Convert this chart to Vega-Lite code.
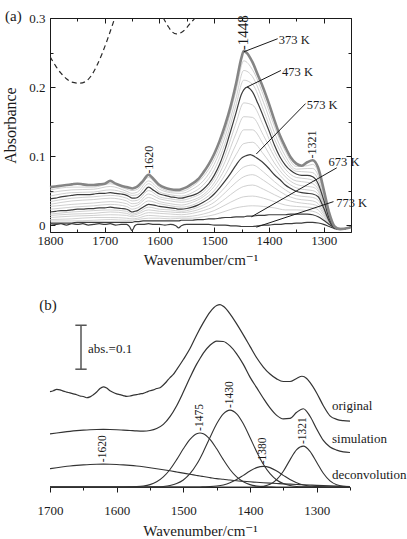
{
  "$schema": "https://vega.github.io/schema/vega-lite/v6.json",
  "padding": {"left": 2, "top": 8, "right": 0, "bottom": 0},
  "spacing": 29,
  "config": {
    "font": "Liberation Serif, Times New Roman, DejaVu Serif, serif",
    "view": {"stroke": null},
    "axis": {
      "labelFont": "Liberation Serif, Times New Roman, DejaVu Serif, serif",
      "titleFont": "Liberation Serif, Times New Roman, DejaVu Serif, serif",
      "labelFontSize": 13, "titleFontSize": 15, "titleFontWeight": "normal",
      "labelColor": "#1a1a1a", "titleColor": "#1a1a1a", "tickColor": "#1a1a1a",
      "domainColor": "#1a1a1a", "grid": false, "labelFlush": false, "labelOverlap": false,
      "tickWidth": 1
    },
    "text": {"font": "Liberation Serif, Times New Roman, DejaVu Serif, serif", "color": "#1a1a1a"}
  },
  "datasets": {
    "dark": [
      {"w":1800,"a373":0.055,"a473":0.038,"a573":0.019,"a673":0.003,"a773":0.002},
      {"w":1790,"a373":0.056,"a473":0.039,"a573":0.020,"a673":0.003,"a773":0.001},
      {"w":1780,"a373":0.057,"a473":0.041,"a573":0.021,"a673":0.003,"a773":0.002},
      {"w":1770,"a373":0.058,"a473":0.042,"a573":0.021,"a673":0.003,"a773":0.000},
      {"w":1760,"a373":0.059,"a473":0.043,"a573":0.022,"a673":0.003,"a773":0.002},
      {"w":1750,"a373":0.060,"a473":0.044,"a573":0.023,"a673":0.004,"a773":0.001},
      {"w":1740,"a373":0.059,"a473":0.044,"a573":0.023,"a673":0.004,"a773":0.002},
      {"w":1730,"a373":0.058,"a473":0.044,"a573":0.024,"a673":0.004,"a773":0.000},
      {"w":1720,"a373":0.058,"a473":0.045,"a573":0.024,"a673":0.004,"a773":0.001},
      {"w":1710,"a373":0.059,"a473":0.046,"a573":0.025,"a673":0.004,"a773":0.002},
      {"w":1700,"a373":0.060,"a473":0.046,"a573":0.025,"a673":0.004,"a773":0.001},
      {"w":1690,"a373":0.064,"a473":0.047,"a573":0.026,"a673":0.004,"a773":0.002},
      {"w":1680,"a373":0.060,"a473":0.046,"a573":0.025,"a673":0.004,"a773":0.000},
      {"w":1670,"a373":0.057,"a473":0.045,"a573":0.024,"a673":0.004,"a773":0.001},
      {"w":1660,"a373":0.055,"a473":0.043,"a573":0.023,"a673":0.004,"a773":0.001},
      {"w":1655,"a373":0.054,"a473":0.041,"a573":0.021,"a673":0.004,"a773":-0.002},
      {"w":1650,"a373":0.053,"a473":0.039,"a573":0.019,"a673":0.004,"a773":-0.008},
      {"w":1645,"a373":0.054,"a473":0.039,"a573":0.020,"a673":0.005,"a773":-0.001},
      {"w":1640,"a373":0.056,"a473":0.040,"a573":0.021,"a673":0.005,"a773":0.001},
      {"w":1630,"a373":0.064,"a473":0.047,"a573":0.026,"a673":0.006,"a773":0.001},
      {"w":1620,"a373":0.073,"a473":0.055,"a573":0.030,"a673":0.006,"a773":0.002},
      {"w":1610,"a373":0.066,"a473":0.050,"a573":0.029,"a673":0.006,"a773":0.001},
      {"w":1600,"a373":0.058,"a473":0.045,"a573":0.027,"a673":0.006,"a773":0.001},
      {"w":1590,"a373":0.054,"a473":0.043,"a573":0.026,"a673":0.006,"a773":0.000},
      {"w":1580,"a373":0.052,"a473":0.041,"a573":0.025,"a673":0.006,"a773":0.001},
      {"w":1570,"a373":0.051,"a473":0.040,"a573":0.024,"a673":0.006,"a773":-0.001},
      {"w":1565,"a373":0.051,"a473":0.039,"a573":0.023,"a673":0.006,"a773":-0.004},
      {"w":1560,"a373":0.052,"a473":0.039,"a573":0.023,"a673":0.007,"a773":-0.001},
      {"w":1550,"a373":0.055,"a473":0.041,"a573":0.024,"a673":0.007,"a773":0.001},
      {"w":1540,"a373":0.060,"a473":0.043,"a573":0.026,"a673":0.007,"a773":0.001},
      {"w":1530,"a373":0.066,"a473":0.046,"a573":0.029,"a673":0.008,"a773":0.001},
      {"w":1520,"a373":0.076,"a473":0.052,"a573":0.033,"a673":0.008,"a773":0.001},
      {"w":1510,"a373":0.088,"a473":0.060,"a573":0.038,"a673":0.009,"a773":0.001},
      {"w":1500,"a373":0.103,"a473":0.072,"a573":0.045,"a673":0.009,"a773":0.000},
      {"w":1490,"a373":0.122,"a473":0.088,"a573":0.054,"a673":0.010,"a773":0.000},
      {"w":1480,"a373":0.145,"a473":0.110,"a573":0.064,"a673":0.011,"a773":0.000},
      {"w":1470,"a373":0.172,"a473":0.136,"a573":0.075,"a673":0.011,"a773":-0.001},
      {"w":1460,"a373":0.205,"a473":0.163,"a573":0.087,"a673":0.012,"a773":-0.001},
      {"w":1450,"a373":0.243,"a473":0.190,"a573":0.097,"a673":0.012,"a773":-0.002},
      {"w":1446,"a373":0.252,"a473":0.196,"a573":0.099,"a673":0.012,"a773":-0.002},
      {"w":1440,"a373":0.249,"a473":0.200,"a573":0.101,"a673":0.013,"a773":-0.002},
      {"w":1434,"a373":0.242,"a473":0.197,"a573":0.102,"a673":0.013,"a773":-0.002},
      {"w":1430,"a373":0.236,"a473":0.193,"a573":0.101,"a673":0.013,"a773":-0.002},
      {"w":1420,"a373":0.217,"a473":0.176,"a573":0.096,"a673":0.014,"a773":-0.001},
      {"w":1410,"a373":0.198,"a473":0.157,"a573":0.090,"a673":0.014,"a773":0.000},
      {"w":1400,"a373":0.176,"a473":0.137,"a573":0.082,"a673":0.015,"a773":0.000},
      {"w":1390,"a373":0.152,"a473":0.116,"a573":0.073,"a673":0.015,"a773":0.001},
      {"w":1380,"a373":0.130,"a473":0.099,"a573":0.066,"a673":0.015,"a773":0.001},
      {"w":1370,"a373":0.113,"a473":0.087,"a573":0.058,"a673":0.015,"a773":0.002},
      {"w":1360,"a373":0.098,"a473":0.079,"a573":0.053,"a673":0.016,"a773":0.002},
      {"w":1350,"a373":0.089,"a473":0.074,"a573":0.049,"a673":0.016,"a773":0.003},
      {"w":1340,"a373":0.086,"a473":0.072,"a573":0.047,"a673":0.016,"a773":0.003},
      {"w":1330,"a373":0.091,"a473":0.072,"a573":0.046,"a673":0.016,"a773":0.004},
      {"w":1320,"a373":0.094,"a473":0.070,"a573":0.045,"a673":0.015,"a773":0.004},
      {"w":1310,"a373":0.083,"a473":0.060,"a573":0.041,"a673":0.012,"a773":0.003},
      {"w":1300,"a373":0.052,"a473":0.037,"a573":0.025,"a673":0.007,"a773":0.001},
      {"w":1290,"a373":0.018,"a473":0.010,"a573":0.006,"a673":0.001,"a773":-0.002},
      {"w":1280,"a373":-0.002,"a473":-0.004,"a573":-0.004,"a673":-0.004,"a773":-0.005},
      {"w":1270,"a373":-0.006,"a473":-0.006,"a573":-0.006,"a673":-0.006,"a773":-0.006},
      {"w":1260,"a373":-0.005,"a473":-0.005,"a573":-0.005,"a673":-0.005,"a773":-0.005},
      {"w":1250,"a373":-0.003,"a473":-0.003,"a573":-0.003,"a673":-0.003,"a773":-0.003}
    ],
    "grey": [
      {"w":1800,"g1":0.051,"g2":0.047,"g3":0.042,"g4":0.034,"g5":0.030,"g6":0.027,"g7":0.023,"g8":0.016,"g9":0.014,"g10":0.011,"g11":0.008,"g12":0.006},
      {"w":1760,"g1":0.055,"g2":0.051,"g3":0.047,"g4":0.039,"g5":0.035,"g6":0.030,"g7":0.026,"g8":0.019,"g9":0.016,"g10":0.013,"g11":0.009,"g12":0.006},
      {"w":1720,"g1":0.055,"g2":0.052,"g3":0.048,"g4":0.041,"g5":0.037,"g6":0.032,"g7":0.028,"g8":0.021,"g9":0.017,"g10":0.014,"g11":0.011,"g12":0.007},
      {"w":1690,"g1":0.060,"g2":0.056,"g3":0.051,"g4":0.043,"g5":0.039,"g6":0.034,"g7":0.030,"g8":0.022,"g9":0.019,"g10":0.015,"g11":0.011,"g12":0.008},
      {"w":1660,"g1":0.052,"g2":0.049,"g3":0.046,"g4":0.039,"g5":0.035,"g6":0.031,"g7":0.027,"g8":0.020,"g9":0.017,"g10":0.014,"g11":0.010,"g12":0.007},
      {"w":1650,"g1":0.050,"g2":0.046,"g3":0.043,"g4":0.035,"g5":0.031,"g6":0.027,"g7":0.023,"g8":0.016,"g9":0.014,"g10":0.012,"g11":0.009,"g12":0.007},
      {"w":1640,"g1":0.052,"g2":0.048,"g3":0.044,"g4":0.036,"g5":0.032,"g6":0.029,"g7":0.025,"g8":0.018,"g9":0.016,"g10":0.013,"g11":0.010,"g12":0.008},
      {"w":1620,"g1":0.069,"g2":0.064,"g3":0.060,"g4":0.050,"g5":0.045,"g6":0.040,"g7":0.035,"g8":0.026,"g9":0.022,"g10":0.018,"g11":0.014,"g12":0.010},
      {"w":1600,"g1":0.055,"g2":0.052,"g3":0.048,"g4":0.041,"g5":0.038,"g6":0.034,"g7":0.031,"g8":0.023,"g9":0.020,"g10":0.017,"g11":0.013,"g12":0.010},
      {"w":1580,"g1":0.049,"g2":0.047,"g3":0.044,"g4":0.038,"g5":0.035,"g6":0.031,"g7":0.028,"g8":0.022,"g9":0.019,"g10":0.016,"g11":0.012,"g12":0.009},
      {"w":1560,"g1":0.049,"g2":0.046,"g3":0.042,"g4":0.036,"g5":0.033,"g6":0.029,"g7":0.026,"g8":0.020,"g9":0.018,"g10":0.015,"g11":0.012,"g12":0.010},
      {"w":1540,"g1":0.056,"g2":0.052,"g3":0.047,"g4":0.040,"g5":0.036,"g6":0.033,"g7":0.029,"g8":0.023,"g9":0.020,"g10":0.017,"g11":0.013,"g12":0.010},
      {"w":1520,"g1":0.070,"g2":0.064,"g3":0.058,"g4":0.048,"g5":0.044,"g6":0.041,"g7":0.037,"g8":0.029,"g9":0.025,"g10":0.021,"g11":0.016,"g12":0.012},
      {"w":1500,"g1":0.095,"g2":0.088,"g3":0.080,"g4":0.067,"g5":0.061,"g6":0.056,"g7":0.050,"g8":0.039,"g9":0.033,"g10":0.027,"g11":0.021,"g12":0.015},
      {"w":1480,"g1":0.136,"g2":0.128,"g3":0.119,"g4":0.101,"g5":0.092,"g6":0.082,"g7":0.073,"g8":0.055,"g9":0.047,"g10":0.038,"g11":0.029,"g12":0.020},
      {"w":1460,"g1":0.195,"g2":0.184,"g3":0.174,"g4":0.148,"g5":0.133,"g6":0.117,"g7":0.102,"g8":0.074,"g9":0.062,"g10":0.050,"g11":0.037,"g12":0.025},
      {"w":1446,"g1":0.238,"g2":0.224,"g3":0.210,"g4":0.177,"g5":0.157,"g6":0.138,"g7":0.118,"g8":0.084,"g9":0.070,"g10":0.056,"g11":0.041,"g12":0.027},
      {"w":1430,"g1":0.225,"g2":0.215,"g3":0.204,"g4":0.174,"g5":0.156,"g6":0.138,"g7":0.120,"g8":0.087,"g9":0.073,"g10":0.058,"g11":0.042,"g12":0.028},
      {"w":1410,"g1":0.188,"g2":0.178,"g3":0.167,"g4":0.144,"g5":0.130,"g6":0.117,"g7":0.103,"g8":0.077,"g9":0.065,"g10":0.052,"g11":0.039,"g12":0.027},
      {"w":1390,"g1":0.143,"g2":0.134,"g3":0.125,"g4":0.107,"g5":0.099,"g6":0.090,"g7":0.082,"g8":0.063,"g9":0.054,"g10":0.044,"g11":0.034,"g12":0.025},
      {"w":1370,"g1":0.107,"g2":0.100,"g3":0.094,"g4":0.081,"g5":0.075,"g6":0.070,"g7":0.064,"g8":0.051,"g9":0.044,"g10":0.037,"g11":0.029,"g12":0.022},
      {"w":1350,"g1":0.085,"g2":0.081,"g3":0.078,"g4":0.069,"g5":0.064,"g6":0.059,"g7":0.054,"g8":0.043,"g9":0.038,"g10":0.033,"g11":0.027,"g12":0.022},
      {"w":1330,"g1":0.086,"g2":0.082,"g3":0.077,"g4":0.067,"g5":0.062,"g6":0.056,"g7":0.051,"g8":0.041,"g9":0.036,"g10":0.031,"g11":0.026,"g12":0.021},
      {"w":1320,"g1":0.088,"g2":0.082,"g3":0.076,"g4":0.065,"g5":0.060,"g6":0.055,"g7":0.050,"g8":0.040,"g9":0.035,"g10":0.030,"g11":0.025,"g12":0.020},
      {"w":1310,"g1":0.077,"g2":0.072,"g3":0.066,"g4":0.056,"g5":0.052,"g6":0.049,"g7":0.045,"g8":0.036,"g9":0.031,"g10":0.027,"g11":0.022,"g12":0.017},
      {"w":1300,"g1":0.048,"g2":0.045,"g3":0.041,"g4":0.035,"g5":0.032,"g6":0.030,"g7":0.027,"g8":0.022,"g9":0.019,"g10":0.016,"g11":0.013,"g12":0.010},
      {"w":1290,"g1":0.016,"g2":0.014,"g3":0.012,"g4":0.009,"g5":0.008,"g6":0.008,"g7":0.007,"g8":0.005,"g9":0.004,"g10":0.004,"g11":0.003,"g12":0.002},
      {"w":1280,"g1":-0.003,"g2":-0.003,"g3":-0.004,"g4":-0.004,"g5":-0.004,"g6":-0.004,"g7":-0.004,"g8":-0.004,"g9":-0.004,"g10":-0.004,"g11":-0.004,"g12":-0.004},
      {"w":1260,"g1":-0.005,"g2":-0.005,"g3":-0.005,"g4":-0.005,"g5":-0.005,"g6":-0.005,"g7":-0.005,"g8":-0.005,"g9":-0.005,"g10":-0.005,"g11":-0.005,"g12":-0.005},
      {"w":1250,"g1":-0.003,"g2":-0.003,"g3":-0.003,"g4":-0.003,"g5":-0.003,"g6":-0.003,"g7":-0.003,"g8":-0.003,"g9":-0.003,"g10":-0.003,"g11":-0.003,"g12":-0.003}
    ],
    "dash": [
      {"w":1800,"v":0.244},{"w":1790,"v":0.231},{"w":1780,"v":0.220},{"w":1770,"v":0.212},
      {"w":1760,"v":0.207},{"w":1746,"v":0.2055},{"w":1735,"v":0.208},{"w":1725,"v":0.216},
      {"w":1715,"v":0.230},{"w":1705,"v":0.248},{"w":1695,"v":0.269},{"w":1685,"v":0.292},
      {"w":1675,"v":0.316},{"w":1660,"v":0.35},{"w":1640,"v":0.37},{"w":1625,"v":0.36},
      {"w":1610,"v":0.33},{"w":1600,"v":0.31},{"w":1593,"v":0.300},{"w":1585,"v":0.289},
      {"w":1578,"v":0.281},{"w":1569,"v":0.277},{"w":1560,"v":0.279},{"w":1550,"v":0.286},
      {"w":1543,"v":0.293},{"w":1535,"v":0.300},{"w":1525,"v":0.315},{"w":1510,"v":0.34}
    ],
    "peaksA": [
      {"w":1448,"v":0.252,"t":"-1448"},
      {"w":1620,"v":0.073,"t":"-1620"},
      {"w":1321,"v":0.095,"t":"-1321"}
    ],
    "leaders": [
      {"T":"373 K","x1":1446,"y1":0.251,"x2":1384,"y2":0.270,"tx":1382,"ty":0.268},
      {"T":"473 K","x1":1440,"y1":0.200,"x2":1378,"y2":0.224,"tx":1376,"ty":0.222},
      {"T":"573 K","x1":1423,"y1":0.103,"x2":1333,"y2":0.176,"tx":1331,"ty":0.174},
      {"T":"673 K","x1":1432,"y1":0.012,"x2":1276,"y2":0.083,"tx":1291,"ty":0.091},
      {"T":"773 K","x1":1423,"y1":-0.003,"x2":1282,"y2":0.034,"tx":1277,"ty":0.032}
    ],
    "tagA": [{"w":1882,"v":0.303,"t":"(a)"}],
    "comps": [
      {"w":1700,"c1620":0.0417,"c1475":0,"c1430":0,"c1380":0,"c1321":0,"sim":0.1207},
      {"w":1690,"c1620":0.0439,"c1475":0,"c1430":0,"c1380":0,"c1321":0,"sim":0.1229},
      {"w":1680,"c1620":0.0459,"c1475":0,"c1430":0,"c1380":0,"c1321":0,"sim":0.1249},
      {"w":1670,"c1620":0.0477,"c1475":0,"c1430":0,"c1380":0,"c1321":0,"sim":0.1267},
      {"w":1660,"c1620":0.0492,"c1475":0,"c1430":0,"c1380":0,"c1321":0,"sim":0.1282},
      {"w":1650,"c1620":0.0504,"c1475":0,"c1430":0,"c1380":0,"c1321":0,"sim":0.1294},
      {"w":1640,"c1620":0.0513,"c1475":0,"c1430":0,"c1380":0,"c1321":0,"sim":0.1303},
      {"w":1630,"c1620":0.0518,"c1475":0,"c1430":0,"c1380":0,"c1321":0,"sim":0.1308},
      {"w":1620,"c1620":0.0520,"c1475":0,"c1430":0,"c1380":0,"c1321":0,"sim":0.1310},
      {"w":1610,"c1620":0.0518,"c1475":0,"c1430":0,"c1380":0,"c1321":0,"sim":0.1308},
      {"w":1600,"c1620":0.0513,"c1475":0,"c1430":0,"c1380":0,"c1321":0,"sim":0.1303},
      {"w":1590,"c1620":0.0504,"c1475":0,"c1430":0,"c1380":0,"c1321":0,"sim":0.1294},
      {"w":1580,"c1620":0.0492,"c1475":0.0003,"c1430":0,"c1380":0,"c1321":0,"sim":0.1285},
      {"w":1570,"c1620":0.0477,"c1475":0.0008,"c1430":0,"c1380":0,"c1321":0,"sim":0.1275},
      {"w":1560,"c1620":0.0459,"c1475":0.0022,"c1430":0.0001,"c1380":0,"c1321":0,"sim":0.1271},
      {"w":1550,"c1620":0.0439,"c1475":0.0054,"c1430":0.0002,"c1380":0,"c1321":0,"sim":0.1285},
      {"w":1540,"c1620":0.0417,"c1475":0.0118,"c1430":0.0005,"c1380":0,"c1321":0,"sim":0.1330},
      {"w":1530,"c1620":0.0393,"c1475":0.0229,"c1430":0.0013,"c1380":0,"c1321":0,"sim":0.1425},
      {"w":1520,"c1620":0.0368,"c1475":0.0399,"c1430":0.0034,"c1380":0,"c1321":0,"sim":0.1600},
      {"w":1510,"c1620":0.0342,"c1475":0.0622,"c1430":0.0077,"c1380":0,"c1321":0,"sim":0.1850},
      {"w":1500,"c1620":0.0316,"c1475":0.0869,"c1430":0.0160,"c1380":0,"c1321":0,"sim":0.2160},
      {"w":1490,"c1620":0.0289,"c1475":0.1085,"c1430":0.0302,"c1380":0,"c1321":0,"sim":0.2490},
      {"w":1480,"c1620":0.0263,"c1475":0.1213,"c1430":0.0516,"c1380":0.0001,"c1321":0,"sim":0.2795},
      {"w":1475,"c1620":0.0250,"c1475":0.1230,"c1430":0.0651,"c1380":0.0001,"c1321":0,"sim":0.2925},
      {"w":1470,"c1620":0.0238,"c1475":0.1213,"c1430":0.0802,"c1380":0.0003,"c1321":0,"sim":0.3046},
      {"w":1460,"c1620":0.0214,"c1475":0.1085,"c1430":0.1127,"c1380":0.0008,"c1321":0,"sim":0.3224},
      {"w":1450,"c1620":0.0190,"c1475":0.0869,"c1430":0.1440,"c1380":0.0021,"c1321":0,"sim":0.3320},
      {"w":1440,"c1620":0.0176,"c1475":0.0622,"c1430":0.1666,"c1380":0.0047,"c1321":0,"sim":0.3310},
      {"w":1430,"c1620":0.0158,"c1475":0.0399,"c1430":0.1750,"c1380":0.0095,"c1321":0,"sim":0.3210},
      {"w":1420,"c1620":0.0142,"c1475":0.0229,"c1430":0.1666,"c1380":0.0169,"c1321":0,"sim":0.3030},
      {"w":1410,"c1620":0.0130,"c1475":0.0118,"c1430":0.1440,"c1380":0.0265,"c1321":0,"sim":0.2790},
      {"w":1400,"c1620":0.0118,"c1475":0.0054,"c1430":0.1127,"c1380":0.0364,"c1321":0.0001,"sim":0.2500},
      {"w":1390,"c1620":0.0107,"c1475":0.0022,"c1430":0.0802,"c1380":0.0441,"c1321":0.0004,"sim":0.2260},
      {"w":1380,"c1620":0.0097,"c1475":0.0008,"c1430":0.0516,"c1380":0.0470,"c1321":0.0018,"sim":0.2020},
      {"w":1370,"c1620":0.0088,"c1475":0.0003,"c1430":0.0302,"c1380":0.0441,"c1321":0.0061,"sim":0.1800},
      {"w":1360,"c1620":0.0080,"c1475":0,"c1430":0.0160,"c1380":0.0364,"c1321":0.0166,"sim":0.1630},
      {"w":1350,"c1620":0.0072,"c1475":0,"c1430":0.0077,"c1380":0.0265,"c1321":0.0358,"sim":0.1550},
      {"w":1340,"c1620":0.0065,"c1475":0,"c1430":0.0034,"c1380":0.0169,"c1321":0.0618,"sim":0.1560},
      {"w":1330,"c1620":0.0058,"c1475":0,"c1430":0.0013,"c1380":0.0095,"c1321":0.0848,"sim":0.1700},
      {"w":1320,"c1620":0.0051,"c1475":0,"c1430":0.0005,"c1380":0.0047,"c1321":0.0929,"sim":0.1780},
      {"w":1310,"c1620":0.0044,"c1475":0,"c1430":0.0002,"c1380":0.0021,"c1321":0.0811,"sim":0.1610},
      {"w":1300,"c1620":0.0038,"c1475":0,"c1430":0,"c1380":0.0008,"c1321":0.0564,"sim":0.1320},
      {"w":1290,"c1620":0.0032,"c1475":0,"c1430":0,"c1380":0.0003,"c1321":0.0313,"sim":0.1060},
      {"w":1280,"c1620":0.0026,"c1475":0,"c1430":0,"c1380":0.0001,"c1321":0.0138,"sim":0.0910},
      {"w":1270,"c1620":0.0020,"c1475":0,"c1430":0,"c1380":0,"c1321":0.0049,"sim":0.0840},
      {"w":1260,"c1620":0.0015,"c1475":0,"c1430":0,"c1380":0,"c1321":0.0014,"sim":0.0800},
      {"w":1250,"c1620":0.0010,"c1475":0,"c1430":0,"c1380":0,"c1321":0.0003,"sim":0.0785}
    ],
    "orig": [
      {"w":1700,"v":0.217},{"w":1695,"v":0.219},{"w":1690,"v":0.222},{"w":1685,"v":0.221},
      {"w":1680,"v":0.218},{"w":1675,"v":0.216},{"w":1670,"v":0.214},{"w":1665,"v":0.212},
      {"w":1660,"v":0.210},{"w":1655,"v":0.207},{"w":1650,"v":0.206},{"w":1645,"v":0.203},
      {"w":1640,"v":0.205},{"w":1635,"v":0.210},{"w":1630,"v":0.216},{"w":1625,"v":0.224},
      {"w":1620,"v":0.228},{"w":1615,"v":0.225},{"w":1610,"v":0.219},{"w":1605,"v":0.215},
      {"w":1600,"v":0.212},{"w":1595,"v":0.210},{"w":1590,"v":0.208},{"w":1585,"v":0.206},
      {"w":1580,"v":0.207},{"w":1575,"v":0.209},{"w":1570,"v":0.210},{"w":1565,"v":0.212},
      {"w":1560,"v":0.213},{"w":1555,"v":0.216},{"w":1550,"v":0.219},{"w":1545,"v":0.221},
      {"w":1540,"v":0.224},{"w":1535,"v":0.226},{"w":1530,"v":0.232},{"w":1525,"v":0.240},
      {"w":1520,"v":0.249},{"w":1515,"v":0.256},{"w":1510,"v":0.267},{"w":1500,"v":0.290},
      {"w":1490,"v":0.315},{"w":1480,"v":0.346},{"w":1470,"v":0.374},{"w":1460,"v":0.398},
      {"w":1450,"v":0.413},{"w":1445,"v":0.415},{"w":1440,"v":0.411},{"w":1430,"v":0.394},
      {"w":1420,"v":0.371},{"w":1410,"v":0.346},{"w":1400,"v":0.320},{"w":1390,"v":0.294},
      {"w":1380,"v":0.273},{"w":1370,"v":0.257},{"w":1360,"v":0.246},{"w":1350,"v":0.240},
      {"w":1340,"v":0.240},{"w":1330,"v":0.247},{"w":1322,"v":0.252},{"w":1315,"v":0.247},
      {"w":1310,"v":0.238},{"w":1300,"v":0.214},{"w":1290,"v":0.185},{"w":1280,"v":0.162},
      {"w":1270,"v":0.154},{"w":1260,"v":0.151},{"w":1250,"v":0.150}
    ],
    "peaksB": [
      {"w":1620,"v":0.052,"t":"-1620"},
      {"w":1475,"v":0.123,"t":"-1475"},
      {"w":1430,"v":0.175,"t":"-1430"},
      {"w":1380,"v":0.047,"t":"-1380"},
      {"w":1321,"v":0.093,"t":"-1321"}
    ],
    "namesB": [
      {"w":1277,"v":0.185,"t":"original"},
      {"w":1277,"v":0.109,"t":"simulation"},
      {"w":1277,"v":0.027,"t":"deconvolution"}
    ],
    "bar": [
      {"x1":1653.5,"x2":1653.5,"y1":0.268,"y2":0.368},
      {"x1":1662,"x2":1645,"y1":0.368,"y2":0.368},
      {"x1":1662,"x2":1645,"y1":0.268,"y2":0.268}
    ],
    "barText": [{"w":1643,"v":0.315,"t":"abs.=0.1"}],
    "tagB": [{"w":1716,"v":0.415,"t":"(b)"}]
  },
  "vconcat": [
    {
      "width": 301,
      "height": 214,
      "view": {"stroke": "#1a1a1a", "strokeWidth": 1},
      "resolve": {"axis": {"x": "independent", "y": "independent"}},
      "layer": [
        {
          "data": {"name": "grey"},
          "transform": [{"fold": ["g1","g2","g3","g4","g5","g6","g7","g8","g9","g10","g11","g12"], "as": ["curve", "A"]}],
          "mark": {"type": "line", "interpolate": "monotone", "color": "#c4c4c4", "strokeWidth": 0.8},
          "encoding": {
            "x": {"field": "w", "type": "quantitative",
                  "scale": {"domain": [1250, 1800], "reverse": true, "nice": false, "zero": false},
                  "axis": {"orient": "bottom", "values": [1800,1700,1600,1500,1400,1300], "format": "d",
                           "tickSize": -5, "labelPadding": 7, "domain": false,
                           "title": "Wavenumber/cm⁻¹", "titlePadding": 5}},
            "y": {"field": "A", "type": "quantitative",
                  "scale": {"domain": [-0.01, 0.3], "nice": false, "zero": false},
                  "axis": {"orient": "left", "values": [0, 0.1, 0.2, 0.3], "format": "~g",
                           "tickSize": -5, "labelPadding": 10, "domain": false,
                           "title": "Absorbance", "titleFontSize": 16, "titlePadding": 10}},
            "detail": {"field": "curve", "type": "nominal"}
          }
        },
        {
          "data": {"name": "dark"},
          "transform": [{"fold": ["a473","a573","a673","a773"], "as": ["curve", "A"]}],
          "mark": {"type": "line", "interpolate": "monotone", "color": "#3c3c3c", "strokeWidth": 1.2},
          "encoding": {
            "x": {"field": "w", "type": "quantitative",
                  "axis": {"orient": "bottom", "values": [1750,1650,1550,1450,1350,1250], "labels": false,
                           "tickSize": -3, "domain": false, "title": null}},
            "y": {"field": "A", "type": "quantitative",
                  "axis": {"orient": "left", "values": [0.05, 0.15, 0.25], "labels": false,
                           "tickSize": -3, "domain": false, "title": null}},
            "detail": {"field": "curve", "type": "nominal"}
          }
        },
        {
          "data": {"name": "dark"},
          "mark": {"type": "line", "interpolate": "monotone", "color": "#858585", "strokeWidth": 2.6},
          "encoding": {
            "x": {"field": "w", "type": "quantitative",
                  "axis": {"orient": "top", "values": [1800,1700,1600,1500,1400,1300], "labels": false,
                           "tickSize": -5, "domain": false, "title": null}},
            "y": {"field": "a373", "type": "quantitative",
                  "axis": {"orient": "right", "values": [0, 0.1, 0.2, 0.3], "labels": false,
                           "tickSize": -5, "domain": false, "title": null}}
          }
        },
        {
          "data": {"name": "dash"},
          "mark": {"type": "line", "interpolate": "monotone", "clip": true, "color": "#2a2a2a",
                   "strokeWidth": 1.2, "strokeDash": [5, 3.5]},
          "encoding": {
            "x": {"field": "w", "type": "quantitative",
                  "axis": {"orient": "top", "values": [1750,1650,1550,1450,1350,1250], "labels": false,
                           "tickSize": -3, "domain": false, "title": null}},
            "y": {"field": "v", "type": "quantitative",
                  "axis": {"orient": "right", "values": [0.05, 0.15, 0.25], "labels": false,
                           "tickSize": -3, "domain": false, "title": null}}
          }
        },
        {
          "data": {"name": "leaders"},
          "mark": {"type": "rule", "color": "#1a1a1a", "strokeWidth": 1},
          "encoding": {
            "x": {"field": "x1", "type": "quantitative", "axis": null},
            "y": {"field": "y1", "type": "quantitative", "axis": null},
            "x2": {"field": "x2"},
            "y2": {"field": "y2"}
          }
        },
        {
          "data": {"name": "leaders"},
          "mark": {"type": "text", "align": "left", "baseline": "middle", "fontSize": 12.5},
          "encoding": {
            "x": {"field": "tx", "type": "quantitative", "axis": null},
            "y": {"field": "ty", "type": "quantitative", "axis": null},
            "text": {"field": "T"}
          }
        },
        {
          "data": {"name": "peaksA"},
          "mark": {"type": "text", "angle": 270, "align": "left", "baseline": "middle", "dx": 1},
          "encoding": {
            "x": {"field": "w", "type": "quantitative", "axis": null},
            "y": {"field": "v", "type": "quantitative", "axis": null},
            "text": {"field": "t"},
            "size": {"condition": {"test": "datum.w === 1448", "value": 15}, "value": 12}
          }
        },
        {
          "data": {"name": "tagA"},
          "mark": {"type": "text", "align": "left", "baseline": "middle", "fontSize": 15},
          "encoding": {
            "x": {"field": "w", "type": "quantitative", "axis": null},
            "y": {"field": "v", "type": "quantitative", "axis": null},
            "text": {"field": "t"}
          }
        }
      ]
    },
    {
      "width": 300,
      "height": 189,
      "resolve": {"axis": {"x": "independent"}},
      "layer": [
        {
          "data": {"name": "comps"},
          "transform": [{"fold": ["c1620","c1475","c1430","c1380","c1321"], "as": ["curve", "A"]}],
          "mark": {"type": "line", "interpolate": "monotone", "color": "#333333", "strokeWidth": 1.1},
          "encoding": {
            "x": {"field": "w", "type": "quantitative",
                  "scale": {"domain": [1250, 1700], "reverse": true, "nice": false, "zero": false},
                  "axis": {"orient": "bottom", "values": [1700,1600,1500,1400,1300], "format": "d",
                           "tickSize": 5, "labelPadding": 12, "domain": true,
                           "title": "Wavenumber/cm⁻¹", "titlePadding": 6}},
            "y": {"field": "A", "type": "quantitative",
                  "scale": {"domain": [0, 0.43], "nice": false, "zero": false}, "axis": null},
            "detail": {"field": "curve", "type": "nominal"}
          }
        },
        {
          "data": {"name": "comps"},
          "mark": {"type": "line", "interpolate": "monotone", "color": "#333333", "strokeWidth": 1.2},
          "encoding": {
            "x": {"field": "w", "type": "quantitative",
                  "axis": {"orient": "bottom", "values": [1650,1550,1450,1350,1250], "labels": false,
                           "tickSize": 3, "domain": false, "title": null}},
            "y": {"field": "sim", "type": "quantitative", "axis": null}
          }
        },
        {
          "data": {"name": "orig"},
          "mark": {"type": "line", "interpolate": "monotone", "color": "#333333", "strokeWidth": 1.2},
          "encoding": {
            "x": {"field": "w", "type": "quantitative", "axis": null},
            "y": {"field": "v", "type": "quantitative", "axis": null}
          }
        },
        {
          "data": {"name": "bar"},
          "mark": {"type": "rule", "color": "#555555", "strokeWidth": 1.5},
          "encoding": {
            "x": {"field": "x1", "type": "quantitative", "axis": null},
            "y": {"field": "y1", "type": "quantitative", "axis": null},
            "x2": {"field": "x2"},
            "y2": {"field": "y2"}
          }
        },
        {
          "data": {"name": "barText"},
          "mark": {"type": "text", "align": "left", "baseline": "middle", "fontSize": 13},
          "encoding": {
            "x": {"field": "w", "type": "quantitative", "axis": null},
            "y": {"field": "v", "type": "quantitative", "axis": null},
            "text": {"field": "t"}
          }
        },
        {
          "data": {"name": "tagB"},
          "mark": {"type": "text", "align": "left", "baseline": "middle", "fontSize": 15},
          "encoding": {
            "x": {"field": "w", "type": "quantitative", "axis": null},
            "y": {"field": "v", "type": "quantitative", "axis": null},
            "text": {"field": "t"}
          }
        },
        {
          "data": {"name": "peaksB"},
          "mark": {"type": "text", "angle": 270, "align": "left", "baseline": "middle", "dx": 2, "fontSize": 11.5},
          "encoding": {
            "x": {"field": "w", "type": "quantitative", "axis": null},
            "y": {"field": "v", "type": "quantitative", "axis": null},
            "text": {"field": "t"}
          }
        },
        {
          "data": {"name": "namesB"},
          "mark": {"type": "text", "align": "left", "baseline": "middle", "fontSize": 13},
          "encoding": {
            "x": {"field": "w", "type": "quantitative", "axis": null},
            "y": {"field": "v", "type": "quantitative", "axis": null},
            "text": {"field": "t"}
          }
        }
      ]
    }
  ]
}
